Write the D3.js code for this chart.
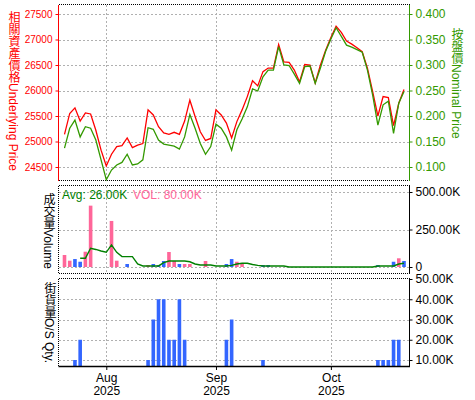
<!DOCTYPE html>
<html><head><meta charset="utf-8">
<script src="https://cdn.jsdelivr.net/npm/d3@7/dist/d3.min.js"></script>
<style>body{margin:0;background:#fff}svg{display:block}</style>
</head><body>
<svg id="chart" width="475" height="400"></svg>
<script>
// ---------- DATA ----------
const dates = [
 "2025-07-22","2025-07-23","2025-07-24","2025-07-25","2025-07-28","2025-07-29","2025-07-30","2025-07-31",
 "2025-08-01","2025-08-04","2025-08-05","2025-08-06","2025-08-07","2025-08-08","2025-08-11","2025-08-12",
 "2025-08-13","2025-08-14","2025-08-15","2025-08-18","2025-08-19","2025-08-20","2025-08-21","2025-08-22",
 "2025-08-25","2025-08-26","2025-08-27","2025-08-28","2025-08-29",
 "2025-09-01","2025-09-02","2025-09-03","2025-09-04","2025-09-05","2025-09-08","2025-09-09","2025-09-10",
 "2025-09-11","2025-09-12","2025-09-15","2025-09-16","2025-09-17","2025-09-18","2025-09-19","2025-09-22",
 "2025-09-23","2025-09-24","2025-09-25","2025-09-26","2025-09-29","2025-09-30",
 "2025-10-02","2025-10-03","2025-10-06","2025-10-08","2025-10-09","2025-10-10","2025-10-13","2025-10-14",
 "2025-10-15","2025-10-16","2025-10-17","2025-10-20","2025-10-21","2025-10-22","2025-10-23"
];
const underlying = [25140,25550,25660,25400,25560,25540,25220,24830,24520,24750,
 24900,24920,25070,24880,24930,24960,25620,25520,25290,25170,
 25140,25180,25140,25400,25810,25490,25190,25020,25060,25620,
 25520,25360,25070,25390,25620,25880,26190,26090,26370,26440,
 26440,26900,26560,26550,26400,26170,26510,26500,26150,26500,
 26790,27040,27260,27140,26970,26910,26840,26760,26440,25980,
 25500,25880,25860,25310,25750,26020];
const nominal = [0.137,0.176,0.192,0.159,0.179,0.176,0.153,0.114,0.075,0.094,
 0.104,0.109,0.125,0.104,0.106,0.114,0.177,0.174,0.153,0.145,
 0.143,0.141,0.135,0.159,0.203,0.176,0.146,0.125,0.140,0.184,
 0.176,0.159,0.133,0.173,0.194,0.218,0.253,0.249,0.277,0.290,
 0.290,0.336,0.300,0.299,0.282,0.264,0.297,0.298,0.264,0.294,
 0.327,0.351,0.373,0.356,0.339,0.335,0.330,0.325,0.290,0.241,
 0.182,0.222,0.229,0.166,0.225,0.248];
// volume in thousands: pink bars / blue bars (0 = none)
const volumePink = [80,42,0,0,102,409,0,0,0,307, 42,0,0,0,0,0,13,0,0,0, 100,40,0,20,20,0,0,40,0,0,
 0,0,0,35,25,0,0,0,0,0, 0,0,0,0,0,0,0,0,0,0, 0,0,0,0,0,0,0,0,0,0, 0,0,0,0,58,0];
const volumeBlue = [0,0,53,35,0,0,0,0,0,0, 0,0,20,0,0,0,0,20,13,40, 0,0,20,0,0,0,0,0,0,0,
 0,20,53,0,0,0,0,0,13,13, 0,0,0,0,0,0,0,0,0,0, 0,0,0,0,0,0,0,0,0,0, 13,0,0,35,0,40];
const volumeAvg = [null,null,null,58,58,125,117,107,98,147, 98,69,69,69,20,7,7,7,7,29,
 40,40,40,40,35,20,13,13,13,7, 7,7,11,20,25,25,17,11,7,7, 7,7,7,0,0,0,0,0,0,0,
 0,0,0,0,0,0,0,0,0,0, 7,7,7,7,20,25];
const osQty = [0,0,10,20,0,0,0,0,0,0, 0,0,0,0,0,0,10,30,40,40, 20,20,40,20,0,0,0,0,0,0,
 0,20,30,0,0,0,0,0,10,0, 0,0,0,0,0,0,0,0,0,0, 0,0,0,0,0,0,0,0,0,0, 10,10,10,20,20,0];
const leftTicks = [24500,25000,25500,26000,26500,27000,27500];
const rightTicks = [0.1,0.15,0.2,0.25,0.3,0.35,0.4];
const volTicks = [0,250,500];
const qtyTicks = [10,20,30,40,50];
const monthTicks = ["2025-08-01","2025-09-01","2025-10-02"];
const monthNames = ["Aug","Sep","Oct"];
const monthYears = ["2025","2025","2025"];

// ---------- LAYOUT ----------
const svg = d3.select("#chart");
const L = 58.5, R = 409.5;
const P1 = {top:4.5, bottom:180.5};
const P2 = {top:185.5, bottom:273.5};
const P3 = {top:278.5, bottom:366};
const FONT = "'Liberation Sans', Arial, 'Noto Sans CJK TC', sans-serif";
const RED = "#ff0000", GREEN = "#339900", DKGREEN = "#008000", PINK = "#ff6699", BLUE = "#3366ff";

const x = d3.scalePoint().domain(dates).range([64.5, 404]);
const yL = d3.scaleLinear().domain([24500,27500]).range([167,14]);
const yR = d3.scaleLinear().domain([0.1,0.4]).range([167,14]);
const yV = d3.scaleLinear().domain([0,500]).range([267,192]);
const yQ = d3.scaleLinear().domain([10,50]).range([360,279]);

const g = svg.append("g").attr("font-family", FONT);

// gridlines
function hgrid(ticks, scale) {
  g.append("g").selectAll("line").data(ticks).join("line")
    .attr("x1", L).attr("x2", R)
    .attr("y1", d => Math.round(scale(d)) + 0.5).attr("y2", d => Math.round(scale(d)) + 0.5)
    .attr("stroke", "#b0b0b0").attr("stroke-dasharray", "2,2").attr("shape-rendering","crispEdges");
}
function vgrid(p) {
  g.append("g").selectAll("line").data(monthTicks).join("line")
    .attr("x1", d => Math.round(x(d)) + 0.5).attr("x2", d => Math.round(x(d)) + 0.5)
    .attr("y1", p.top).attr("y2", p.bottom)
    .attr("stroke", "#b0b0b0").attr("stroke-dasharray", "2,2").attr("shape-rendering","crispEdges");
}
hgrid(leftTicks, yL); vgrid(P1);
hgrid(volTicks, yV); vgrid(P2);
hgrid(qtyTicks.filter(d=>d<50), yQ); vgrid(P3);

// dotted borders
function dotted(x1,y1,x2,y2){
  g.append("line").attr("x1",x1).attr("y1",y1).attr("x2",x2).attr("y2",y2)
   .attr("stroke","#000").attr("stroke-dasharray","1,1").attr("shape-rendering","crispEdges");
}
dotted(L, P1.top, R, P1.top); dotted(L, P1.bottom, R, P1.bottom);
dotted(L, P2.top, R, P2.top); dotted(L, P2.bottom, R, P2.bottom); dotted(L, P2.top, L, P2.bottom);
dotted(L, P3.top, R, P3.top); dotted(L, P3.top, L, P3.bottom);

// ---------- MAIN PRICE PANEL ----------
svg.append("clipPath").attr("id","clipMain").append("rect")
  .attr("x", L).attr("y", P1.top).attr("width", R-L).attr("height", P1.bottom-P1.top+1);
const lineU = d3.line().x((d,i)=>x(dates[i])).y(d=>yL(d));
const lineN = d3.line().x((d,i)=>x(dates[i])).y(d=>yR(d));
const mg = g.append("g").attr("clip-path","url(#clipMain)");
mg.append("path").datum(underlying).attr("d", lineU).attr("fill","none").attr("stroke",RED).attr("stroke-width",1.3);
mg.append("path").datum(nominal).attr("d", lineN).attr("fill","none").attr("stroke",GREEN).attr("stroke-width",1.3);

// left axis (red)
const axL = g.append("g").attr("transform",`translate(${L},0)`)
  .call(d3.axisLeft(yL).tickValues(leftTicks).tickFormat(d3.format("d")).tickSize(3).tickPadding(3));
axL.select(".domain").remove();
axL.selectAll("line").attr("stroke",RED);
axL.selectAll("text").attr("fill",RED).attr("font-size",10).attr("font-family",FONT);
g.append("line").attr("x1",L).attr("x2",L).attr("y1",P1.top).attr("y2",P1.bottom).attr("stroke",RED).attr("shape-rendering","crispEdges");

// right axis (green)
const axR = g.append("g").attr("transform",`translate(${R},0)`)
  .call(d3.axisRight(yR).tickValues(rightTicks).tickFormat(d3.format(".3f")).tickSize(3).tickPadding(3));
axR.select(".domain").remove();
axR.selectAll("line").attr("stroke",GREEN);
axR.selectAll("text").attr("fill",GREEN).attr("font-size",12).attr("font-family",FONT);
g.append("line").attr("x1",R).attr("x2",R).attr("y1",P1.top).attr("y2",P1.bottom).attr("stroke",GREEN).attr("shape-rendering","crispEdges");

// ---------- VOLUME PANEL ----------
const bw = 3.6;
g.append("g").selectAll("rect").data(volumePink.map((v,i)=>({v,i})).filter(d=>d.v>0)).join("rect")
  .attr("x", d=>x(dates[d.i])-bw/2).attr("width", bw)
  .attr("y", d=>yV(d.v)).attr("height", d=>yV(0)-yV(d.v)).attr("fill",PINK);
g.append("g").selectAll("rect").data(volumeBlue.map((v,i)=>({v,i})).filter(d=>d.v>0)).join("rect")
  .attr("x", d=>x(dates[d.i])-bw/2).attr("width", bw)
  .attr("y", d=>yV(d.v)).attr("height", d=>yV(0)-yV(d.v)).attr("fill",BLUE);
const lineA = d3.line().defined(d=>d!=null).x((d,i)=>x(dates[i])).y(d=>yV(d));
g.append("path").datum(volumeAvg).attr("d", lineA).attr("fill","none").attr("stroke",DKGREEN).attr("stroke-width",1.4);

const axV = g.append("g").attr("transform",`translate(${R},0)`)
  .call(d3.axisRight(yV).tickValues(volTicks).tickFormat(d=>d===0?"0":d3.format(".2f")(d)+"K").tickSize(3).tickPadding(3));
axV.select(".domain").remove();
axV.selectAll("line").attr("stroke","#000");
axV.selectAll("text").attr("fill","#000").attr("font-size",12).attr("font-family",FONT);
g.append("line").attr("x1",R).attr("x2",R).attr("y1",P2.top).attr("y2",P2.bottom).attr("stroke","#000").attr("shape-rendering","crispEdges");

g.append("text").attr("x",62).attr("y",198.5).attr("font-size",12).attr("fill",DKGREEN).text("Avg: 26.00K");
g.append("text").attr("x",133).attr("y",198.5).attr("font-size",12).attr("fill",PINK).text("VOL: 80.00K");

// ---------- O/S QTY PANEL ----------
g.append("g").selectAll("rect").data(osQty.map((v,i)=>({v,i})).filter(d=>d.v>0)).join("rect")
  .attr("x", d=>x(dates[d.i])-bw/2).attr("width", bw)
  .attr("y", d=>yQ(d.v)).attr("height", d=>P3.bottom-yQ(d.v)).attr("fill",BLUE);

const axQ = g.append("g").attr("transform",`translate(${R},0)`)
  .call(d3.axisRight(yQ).tickValues(qtyTicks).tickFormat(d=>d3.format(".2f")(d)+"K").tickSize(3).tickPadding(3));
axQ.select(".domain").remove();
axQ.selectAll("line").attr("stroke","#000");
axQ.selectAll("text").attr("fill","#000").attr("font-size",12).attr("font-family",FONT);
g.append("line").attr("x1",R).attr("x2",R).attr("y1",P3.top).attr("y2",P3.bottom).attr("stroke","#000").attr("shape-rendering","crispEdges");

// x axis
const axX = g.append("g").attr("transform",`translate(0,${P3.bottom})`)
  .call(d3.axisBottom(x).tickValues(monthTicks).tickSize(4).tickPadding(3).tickFormat(""));
axX.select(".domain").attr("d", `M${L},0.5H${R+0.5}`).attr("stroke","#000").attr("stroke-width",1.5);
axX.selectAll(".tick line").attr("stroke","#000");
axX.selectAll(".tick").each(function(d,i){
  const t = d3.select(this).select("text").attr("font-size",12).attr("font-family",FONT).attr("fill","#000");
  t.append("tspan").attr("x",0).text(monthNames[i]);
  t.append("tspan").attr("x",0).attr("dy","1.1em").text(monthYears[i]);
});

// ---------- VERTICAL AXIS TITLES ----------
function vtitle(xc, ytop, txt, color){
  g.append("text").attr("x",xc).attr("y",ytop).attr("font-size",12).attr("fill",color)
   .style("writing-mode","vertical-rl").attr("text-anchor","start").text(txt);
}
vtitle(13, 11, "相關資產價格Underlying Price", RED);
vtitle(456, 28, "按盤價Nominal Price", GREEN);
vtitle(48, 193, "成交量Volume", "#000");
vtitle(49, 282, "街貨量O/S Qty.", "#000");
</script>
</body></html>
